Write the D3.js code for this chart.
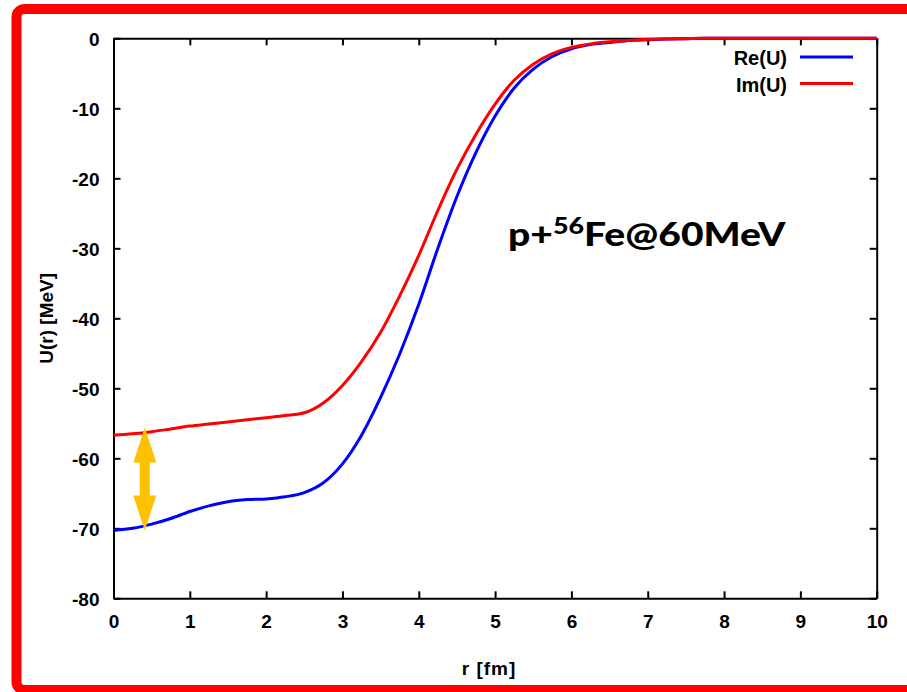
<!DOCTYPE html>
<html>
<head>
<meta charset="utf-8">
<script src="https://cdn.jsdelivr.net/npm/d3@7"></script>
<style>
  html, body { margin: 0; padding: 0; background: #fff; }
  svg { display: block; }
  text { font-family: "Liberation Sans", Arial, sans-serif; font-weight: bold; fill: #000; }
</style>
</head>
<body>
<div id="chart"></div>
<script>

// radius grid [fm]
var radii = [0, 0.25, 0.5, 0.75, 1, 1.25, 1.5, 1.75, 2, 2.25, 2.5, 2.75, 3, 3.25, 3.5, 3.75,
             4, 4.25, 4.5, 4.75, 5, 5.25, 5.5, 5.75, 6, 6.25, 6.5, 6.75, 7, 7.25, 7.5, 7.75,
             8, 8.5, 9, 9.5, 10];

// Re(U) [MeV]
var reU = [-70.3, -70.0, -69.4, -68.6, -67.6, -66.8, -66.2, -65.9, -65.8, -65.5, -64.9, -63.5,
           -60.8, -56.7, -51.3, -45.1, -38.0, -30.0, -22.6, -16.3, -11.1, -7.1, -4.4, -2.6,
           -1.5, -0.9, -0.6, -0.3, -0.2, -0.1, -0.05, 0, 0, 0, 0, 0, 0];

// Im(U) [MeV]
var imU = [-56.7, -56.5, -56.2, -55.8, -55.4, -55.1, -54.8, -54.5, -54.2, -53.9, -53.5, -52.1,
           -49.6, -46.2, -42.0, -36.8, -31.0, -24.6, -18.7, -13.7, -9.4, -6.0, -3.7, -2.2,
           -1.3, -0.8, -0.5, -0.3, -0.15, -0.1, -0.05, 0, 0, 0, 0, 0, 0];

var xTicks = [0, 1, 2, 3, 4, 5, 6, 7, 8, 9, 10];
var yTicks = [0, -10, -20, -30, -40, -50, -60, -70, -80];

var seriesNames = ["Re(U)", "Im(U)"];
var seriesColors = ["#0000ff", "#ff0000"];

// gap marker between the two curves near the origin
var gapR = 0.41;
var gapFrom = -55.6;
var gapTo = -70.3;

function renderChart(){

  var width = 907, height = 692;
  var left = 113.5, right = 876.7, top = 38.3, bottom = 598.3;

  var svg = d3.select("#chart").append("svg")
              .attr("width", width)
              .attr("height", height);

  // red rounded frame round the slide
  svg.append("rect")
     .attr("x", 16.5).attr("y", 9)
     .attr("width", 920).attr("height", 681)
     .attr("rx", 8)
     .attr("fill", "none")
     .attr("stroke", "#ff0000")
     .attr("stroke-width", 10);

  var x = d3.scaleLinear().domain([0, 10]).range([left, right]);
  var y = d3.scaleLinear().domain([-80, 0]).range([bottom, top]);

  var plain = function(d){ return String(d); };

  // axes with inward ticks, mirrored on top and right
  var gx = svg.append("g").attr("transform", "translate(0," + bottom + ")")
              .call(d3.axisBottom(x).tickValues(xTicks).tickFormat(plain).tickSizeInner(-7).tickSizeOuter(0).tickPadding(16));
  var gxTop = svg.append("g").attr("transform", "translate(0," + top + ")")
              .call(d3.axisTop(x).tickValues(xTicks).tickSizeInner(-7).tickSizeOuter(0).tickFormat(""));
  var gy = svg.append("g").attr("transform", "translate(" + left + ",0)")
              .call(d3.axisLeft(y).tickValues(yTicks).tickFormat(plain).tickSizeInner(-7).tickSizeOuter(0).tickPadding(14));
  var gyRight = svg.append("g").attr("transform", "translate(" + right + ",0)")
              .call(d3.axisRight(y).tickValues(yTicks).tickSizeInner(-7).tickSizeOuter(0).tickFormat(""));

  [gx, gxTop, gy, gyRight].forEach(function(g){
    g.selectAll("path, line").attr("stroke", "#000").attr("stroke-width", 2);
    g.selectAll("text").style("font-size", "19px").style("font-family", "Liberation Sans, Arial, sans-serif").style("font-weight", "bold").attr("fill", "#000");
  });
  gy.selectAll("text").attr("dy", "0.4em");
  gx.selectAll("text").attr("dy", "0.71em");

  // axis titles
  svg.append("text")
     .attr("x", 489).attr("y", 675)
     .attr("text-anchor", "middle")
     .style("font-size", "19px")
     .style("letter-spacing", "1px")
     .text("r [fm]");

  svg.append("text")
     .attr("transform", "translate(53," + ((top + bottom) / 2) + ") rotate(-90)")
     .attr("text-anchor", "middle")
     .style("font-size", "19px")
     .text("U(r) [MeV]");

  // curves
  var line = d3.line()
               .curve(d3.curveMonotoneX)
               .x(function(d){ return x(d[0]); })
               .y(function(d){ return y(d[1]); });

  [reU, imU].forEach(function(vals, i){
    svg.append("path")
       .datum(radii.map(function(r, k){ return [r, vals[k]]; }))
       .attr("d", line)
       .attr("fill", "none")
       .attr("stroke", seriesColors[i])
       .attr("stroke-width", 3)
       .attr("stroke-linejoin", "round");
  });

  // legend
  var legend = svg.append("g");
  seriesNames.forEach(function(name, i){
    var ly = 57 + i * 26.5;
    legend.append("text")
          .attr("x", 787).attr("y", ly + 8)
          .attr("text-anchor", "end")
          .style("font-size", "20px")
          .text(name);
    legend.append("line")
          .attr("x1", 800).attr("x2", 853)
          .attr("y1", ly).attr("y2", ly)
          .attr("stroke", seriesColors[i])
          .attr("stroke-width", 3);
  });

  // annotation, stretched sideways like the slide text
  var label = svg.append("text")
                 .attr("transform", "translate(508,246) scale(1.22,1)")
                 .style("font-family", "Lato, 'Open Sans', sans-serif")
                 .style("font-weight", "900")
                 .style("font-size", "32px");
  label.append("tspan").text("p+");
  label.append("tspan").attr("dy", -12).style("font-size", "22px").text("56");
  label.append("tspan").attr("dy", 12).text("Fe@60MeV");

  // double-headed arrow
  var ax = x(gapR), ya = y(gapFrom), yb = y(gapTo);
  var hw = 11.5, hh = 35, sw = 5;
  var pts = [
    [ax, ya], [ax + hw, ya + hh], [ax + sw, ya + hh], [ax + sw, yb - hh], [ax + hw, yb - hh],
    [ax, yb], [ax - hw, yb - hh], [ax - sw, yb - hh], [ax - sw, ya + hh], [ax - hw, ya + hh]
  ];
  svg.append("path")
     .attr("d", d3.line()(pts) + "Z")
     .attr("fill", "#ffc000");
}

renderChart();
</script>
</body>
</html>
